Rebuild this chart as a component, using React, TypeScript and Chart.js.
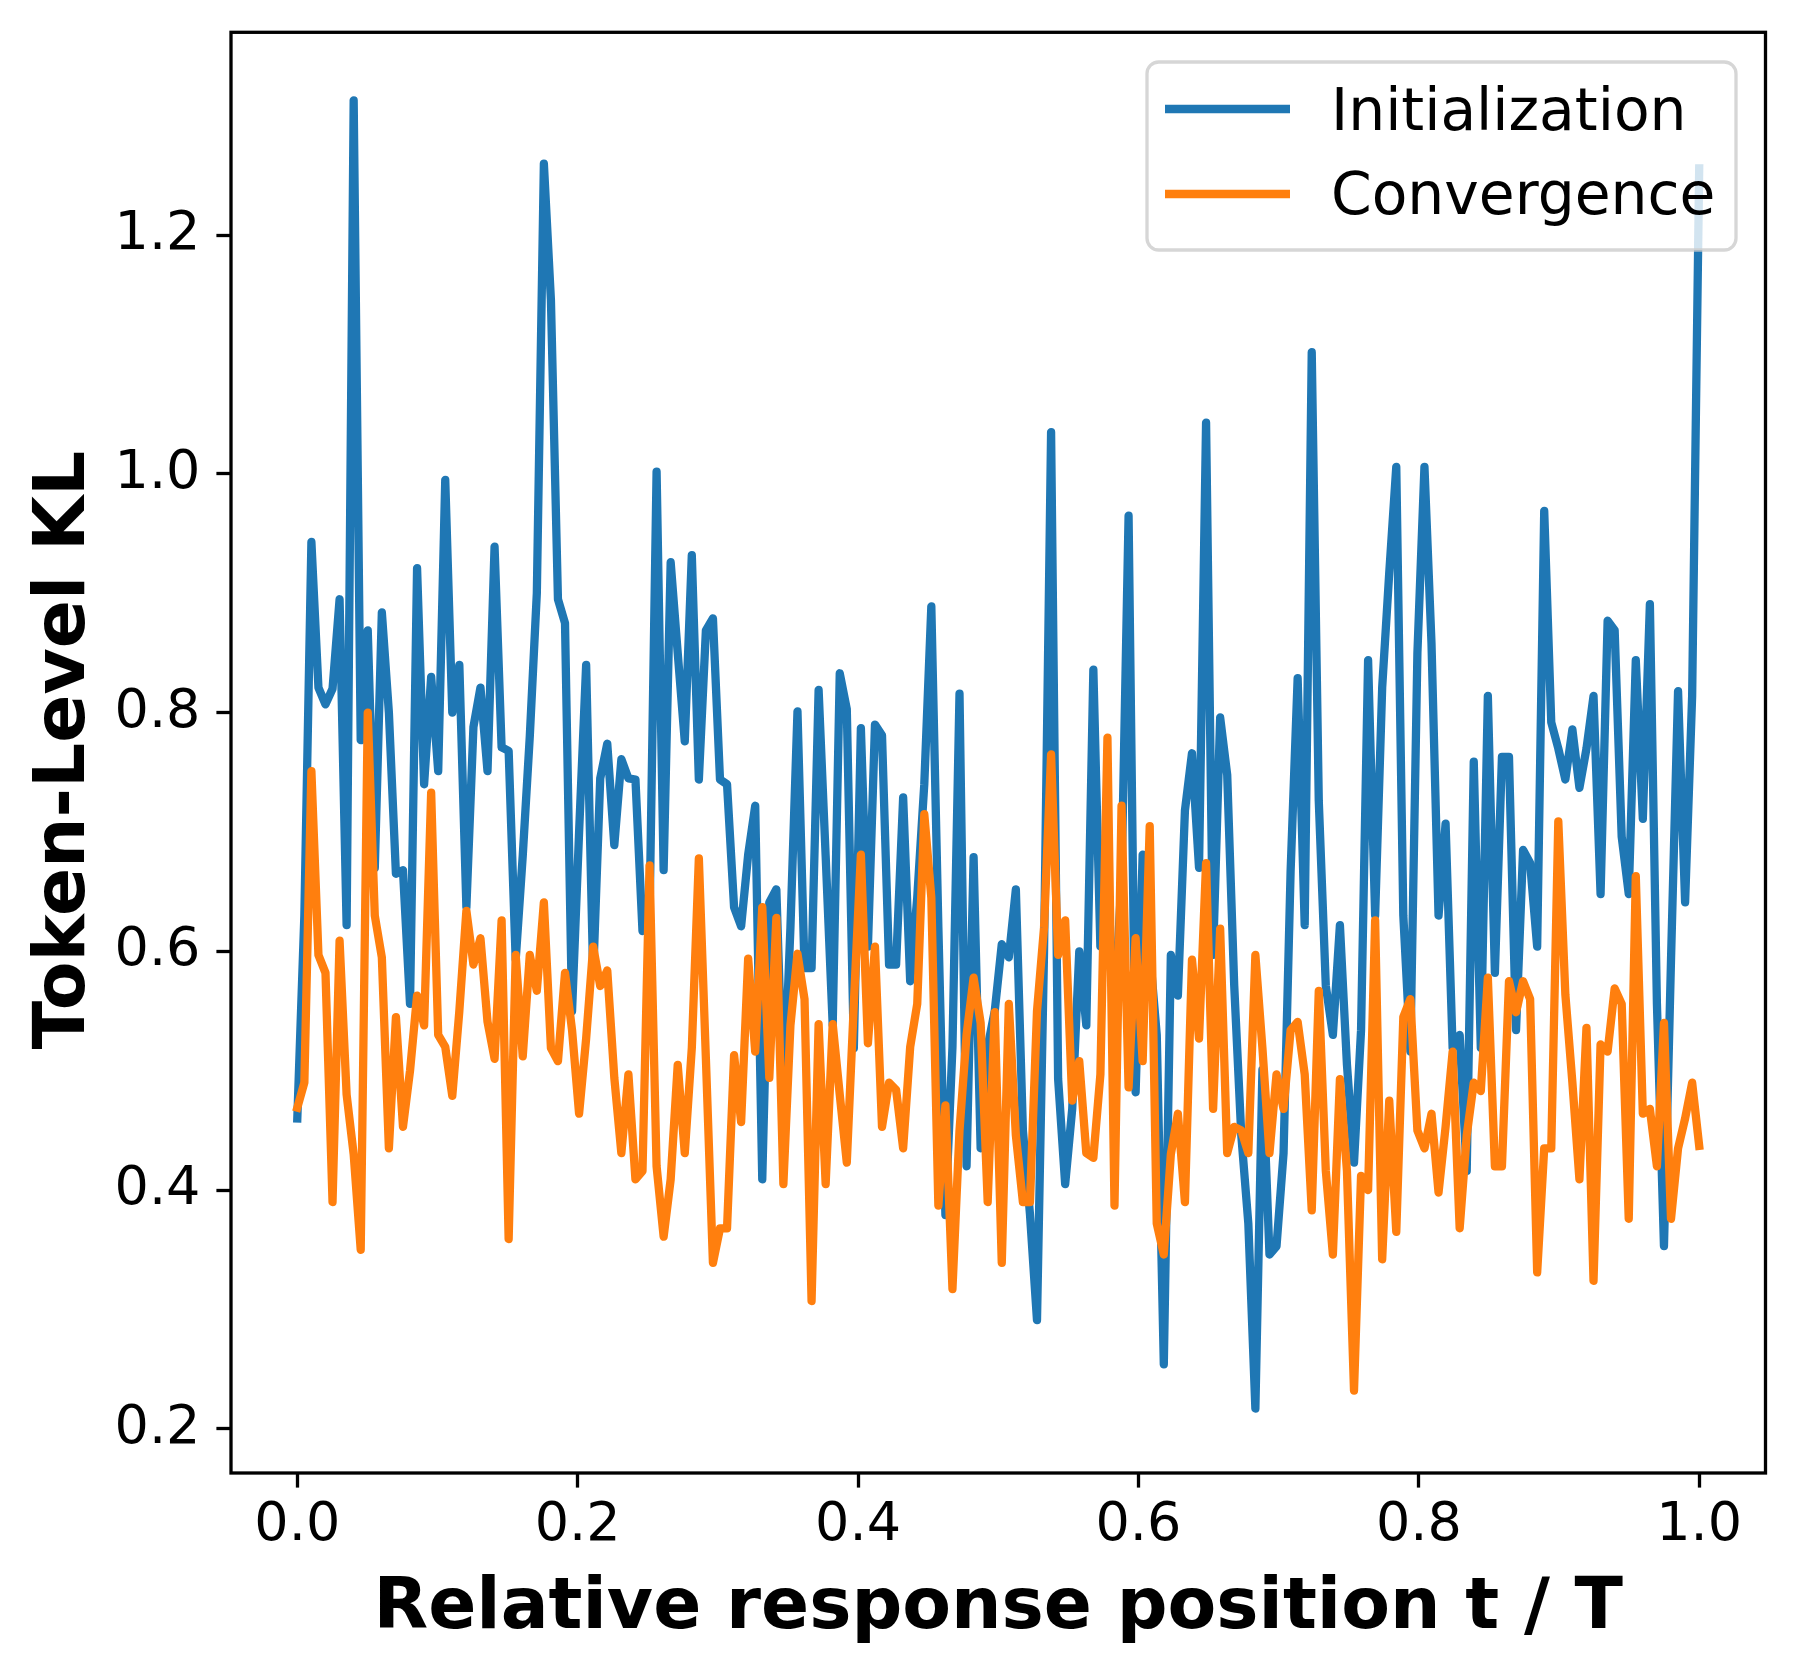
import React, { useEffect, useRef } from 'react';
import { Chart, registerables } from 'chart.js';

Chart.register(...registerables);

// Token-level KL at each relative response position (200 tokens, t/T from 0 to 1)
const INITIALIZATION = [
  0.46, 0.63, 0.943, 0.821, 0.807, 0.82, 0.895, 0.622, 1.313, 0.777,
  0.869, 0.67, 0.884, 0.8, 0.665, 0.668, 0.556, 0.921, 0.74, 0.83,
  0.751, 0.995, 0.8, 0.84, 0.637, 0.788, 0.821, 0.751, 0.939, 0.771,
  0.768, 0.593, 0.68, 0.78, 0.9, 1.26, 1.146, 0.895, 0.875, 0.55,
  0.7, 0.84, 0.58, 0.745, 0.774, 0.689, 0.761, 0.745, 0.744, 0.617,
  0.63, 1.002, 0.668, 0.926, 0.85, 0.776, 0.932, 0.744, 0.869, 0.879,
  0.744, 0.74, 0.637, 0.621, 0.681, 0.722, 0.409, 0.641, 0.652, 0.47,
  0.62, 0.801, 0.586, 0.586, 0.819, 0.68, 0.538, 0.833, 0.803, 0.519,
  0.787, 0.604, 0.79, 0.781, 0.589, 0.589, 0.729, 0.575, 0.645, 0.74,
  0.889, 0.62, 0.379, 0.52, 0.816, 0.42, 0.679, 0.435, 0.52, 0.55,
  0.606, 0.595, 0.652, 0.45, 0.38, 0.291, 0.6, 1.035, 0.493, 0.405,
  0.468, 0.6, 0.538, 0.836, 0.604, 0.62, 0.55, 0.66, 0.965, 0.482,
  0.681, 0.6, 0.53, 0.254, 0.597, 0.563, 0.718, 0.766, 0.67, 1.043,
  0.597, 0.796, 0.748, 0.571, 0.446, 0.372, 0.217, 0.501, 0.346, 0.353,
  0.431, 0.667, 0.829, 0.622, 1.102, 0.726, 0.571, 0.53, 0.622, 0.505,
  0.423, 0.534, 0.844, 0.63, 0.821, 0.917, 1.006, 0.63, 0.516, 0.85,
  1.006, 0.858, 0.63, 0.707, 0.519, 0.53, 0.416, 0.759, 0.519, 0.814,
  0.582, 0.763, 0.763, 0.534, 0.685, 0.674, 0.604, 0.969, 0.792, 0.77,
  0.744, 0.786, 0.737, 0.77, 0.814, 0.648, 0.877, 0.869, 0.696, 0.648,
  0.844, 0.711, 0.891, 0.556, 0.353, 0.593, 0.818, 0.641, 0.814, 1.256,
];

const CONVERGENCE = [
  0.469, 0.49, 0.751, 0.597, 0.582, 0.39, 0.609, 0.48, 0.43, 0.35,
  0.8, 0.63, 0.595, 0.435, 0.545, 0.453, 0.5, 0.563, 0.538, 0.733,
  0.53, 0.52, 0.479, 0.55, 0.634, 0.589, 0.611, 0.541, 0.51, 0.626,
  0.359, 0.597, 0.512, 0.597, 0.567, 0.641, 0.519, 0.508, 0.582, 0.534,
  0.464, 0.527, 0.604, 0.571, 0.584, 0.494, 0.431, 0.497, 0.409, 0.416,
  0.672, 0.42, 0.361, 0.409, 0.505, 0.431, 0.519, 0.678, 0.51, 0.339,
  0.368, 0.368, 0.513, 0.457, 0.594, 0.516, 0.637, 0.494, 0.628, 0.405,
  0.538, 0.598, 0.56, 0.307, 0.539, 0.405, 0.539, 0.48, 0.423, 0.556,
  0.681, 0.523, 0.604, 0.453, 0.49, 0.484, 0.435, 0.52, 0.556, 0.715,
  0.645, 0.387, 0.471, 0.317, 0.45, 0.53, 0.578, 0.54, 0.39, 0.549,
  0.339, 0.556, 0.446, 0.39, 0.39, 0.55, 0.62, 0.765, 0.597, 0.626,
  0.475, 0.508, 0.431, 0.427, 0.497, 0.779, 0.387, 0.722, 0.486, 0.611,
  0.508, 0.705, 0.372, 0.346, 0.43, 0.464, 0.39, 0.593, 0.527, 0.674,
  0.468, 0.619, 0.431, 0.453, 0.45, 0.431, 0.597, 0.519, 0.431, 0.497,
  0.468, 0.534, 0.541, 0.497, 0.383, 0.567, 0.416, 0.346, 0.493, 0.416,
  0.232, 0.412, 0.4, 0.626, 0.342, 0.475, 0.365, 0.545, 0.56, 0.45,
  0.435, 0.464, 0.398, 0.453, 0.516, 0.368, 0.446, 0.49, 0.483, 0.578,
  0.42, 0.42, 0.575, 0.549, 0.575, 0.56, 0.331, 0.435, 0.435, 0.709,
  0.564, 0.49, 0.409, 0.536, 0.324, 0.522, 0.516, 0.569, 0.556, 0.376,
  0.663, 0.464, 0.468, 0.42, 0.54, 0.376, 0.435, 0.46, 0.49, 0.437,
];

const SERIES_LABELS = ['Initialization', 'Convergence'];
const SERIES_COLORS = ['#1f77b4', '#ff7f0e'];
const X_TICKS = [0.0, 0.2, 0.4, 0.6, 0.8, 1.0];
const Y_TICKS = [0.2, 0.4, 0.6, 0.8, 1.0, 1.2];
const X_TITLE = 'Relative response position t / T';
const Y_TITLE = 'Token-Level KL';

const FONT = '"DejaVu Sans", "Noto Sans", sans-serif';

export default function App() {
  const canvasRef = useRef<HTMLCanvasElement | null>(null);

  useEffect(() => {
    document.body.style.margin = '0';
    const canvas = canvasRef.current;
    if (!canvas) return;

    const positions = INITIALIZATION.map((_, i) => i / (INITIALIZATION.length - 1));
    const toPoints = (vals: number[]) => vals.map((v, i) => ({ x: positions[i], y: v }));

    const framePlugin = {
      id: 'mplFrame',
      afterDraw(chart: any) {
        const { ctx, chartArea: a } = chart;
        ctx.save();

        // axes box (spines)
        ctx.strokeStyle = '#000';
        ctx.lineWidth = 3.3;
        ctx.lineJoin = 'miter';
        ctx.strokeRect(a.left, a.top, a.right - a.left, a.bottom - a.top);

        // legend
        const lx = 1147, ly = 62, lw = 589, lh = 188, r = 11.7;
        ctx.beginPath();
        ctx.moveTo(lx + r, ly);
        ctx.lineTo(lx + lw - r, ly);
        ctx.arcTo(lx + lw, ly, lx + lw, ly + r, r);
        ctx.lineTo(lx + lw, ly + lh - r);
        ctx.arcTo(lx + lw, ly + lh, lx + lw - r, ly + lh, r);
        ctx.lineTo(lx + r, ly + lh);
        ctx.arcTo(lx, ly + lh, lx, ly + lh - r, r);
        ctx.lineTo(lx, ly + r);
        ctx.arcTo(lx, ly, lx + r, ly, r);
        ctx.closePath();
        ctx.fillStyle = 'rgba(255,255,255,0.8)';
        ctx.fill();
        ctx.lineWidth = 3.3;
        ctx.strokeStyle = 'rgba(204,204,204,0.8)';
        ctx.stroke();

        const handleY = [109, 194];
        const textY = [130, 214];
        ctx.lineCap = 'butt';
        ctx.lineWidth = 8.3;
        ctx.font = `58.3px ${FONT}`;
        ctx.textAlign = 'left';
        ctx.textBaseline = 'alphabetic';
        SERIES_LABELS.forEach((label, k) => {
          ctx.strokeStyle = SERIES_COLORS[k];
          ctx.beginPath();
          ctx.moveTo(1165, handleY[k]);
          ctx.lineTo(1290, handleY[k]);
          ctx.stroke();
          ctx.fillStyle = '#000';
          ctx.fillText(label, 1331, textY[k]);
        });

        // axis titles
        ctx.fillStyle = '#000';
        ctx.font = `bold 71px ${FONT}`;
        ctx.textAlign = 'center';
        ctx.textBaseline = 'alphabetic';
        ctx.fillText(X_TITLE, (a.left + a.right) / 2, 1628);
        ctx.save();
        ctx.translate(84, 750);
        ctx.rotate(-Math.PI / 2);
        ctx.fillText(Y_TITLE, 0, 0);
        ctx.restore();

        ctx.restore();
      },
    };

    const tickFont = { family: FONT, size: 54 };
    const chart = new Chart(canvas, {
      type: 'line',
      data: {
        datasets: [
          {
            label: SERIES_LABELS[0],
            data: toPoints(INITIALIZATION),
            borderColor: SERIES_COLORS[0],
            backgroundColor: SERIES_COLORS[0],
            borderWidth: 8.3,
            pointRadius: 0,
            borderJoinStyle: 'round',
            borderCapStyle: 'square',
            tension: 0,
            fill: false,
            order: 1,
          },
          {
            label: SERIES_LABELS[1],
            data: toPoints(CONVERGENCE),
            borderColor: SERIES_COLORS[1],
            backgroundColor: SERIES_COLORS[1],
            borderWidth: 8.3,
            pointRadius: 0,
            borderJoinStyle: 'round',
            borderCapStyle: 'square',
            tension: 0,
            fill: false,
            order: 0,
          },
        ],
      },
      options: {
        responsive: false,
        animation: false,
        devicePixelRatio: 1,
        events: [],
        layout: { padding: { top: 32.3, right: 34.5, left: 0, bottom: 0 } },
        plugins: {
          legend: { display: false },
          tooltip: { enabled: false },
          title: { display: false },
        },
        scales: {
          x: {
            type: 'linear',
            min: -0.0473,
            max: 1.0473,
            afterBuildTicks: (s: any) => {
              s.ticks = X_TICKS.map((v) => ({ value: v }));
            },
            afterFit: (s: any) => {
              s.height = 198;
              s.paddingLeft = 0;
              s.paddingRight = 0;
              s.paddingTop = 0;
              s.paddingBottom = 0;
            },
            ticks: {
              font: tickFont,
              color: '#000',
              padding: 6,
              maxRotation: 0,
              autoSkip: false,
              callback: (v: any) => Number(v).toFixed(1),
            },
            grid: {
              display: true,
              drawOnChartArea: false,
              drawTicks: true,
              tickLength: 14.6,
              tickWidth: 3.3,
              tickColor: '#000',
            },
            border: { display: false },
          },
          y: {
            type: 'linear',
            min: 0.163,
            max: 1.37,
            afterBuildTicks: (s: any) => {
              s.ticks = Y_TICKS.map((v) => ({ value: v }));
            },
            afterFit: (s: any) => {
              s.width = 231;
              s.paddingLeft = 0;
              s.paddingRight = 0;
              s.paddingTop = 0;
              s.paddingBottom = 0;
            },
            ticks: {
              font: tickFont,
              color: '#000',
              padding: 16,
              autoSkip: false,
              callback: (v: any) => Number(v).toFixed(1),
            },
            grid: {
              display: true,
              drawOnChartArea: false,
              drawTicks: true,
              tickLength: 14.6,
              tickWidth: 3.3,
              tickColor: '#000',
            },
            border: { display: false },
          },
        },
      },
      plugins: [framePlugin],
    } as any);

    return () => {
      chart.destroy();
    };
  }, []);

  return (
    <div style={{ position: 'fixed', left: 0, top: 0, width: 1800, height: 1671, background: '#fff' }}>
      <canvas ref={canvasRef} width={1800} height={1671} style={{ display: 'block', width: 1800, height: 1671 }} />
    </div>
  );
}
